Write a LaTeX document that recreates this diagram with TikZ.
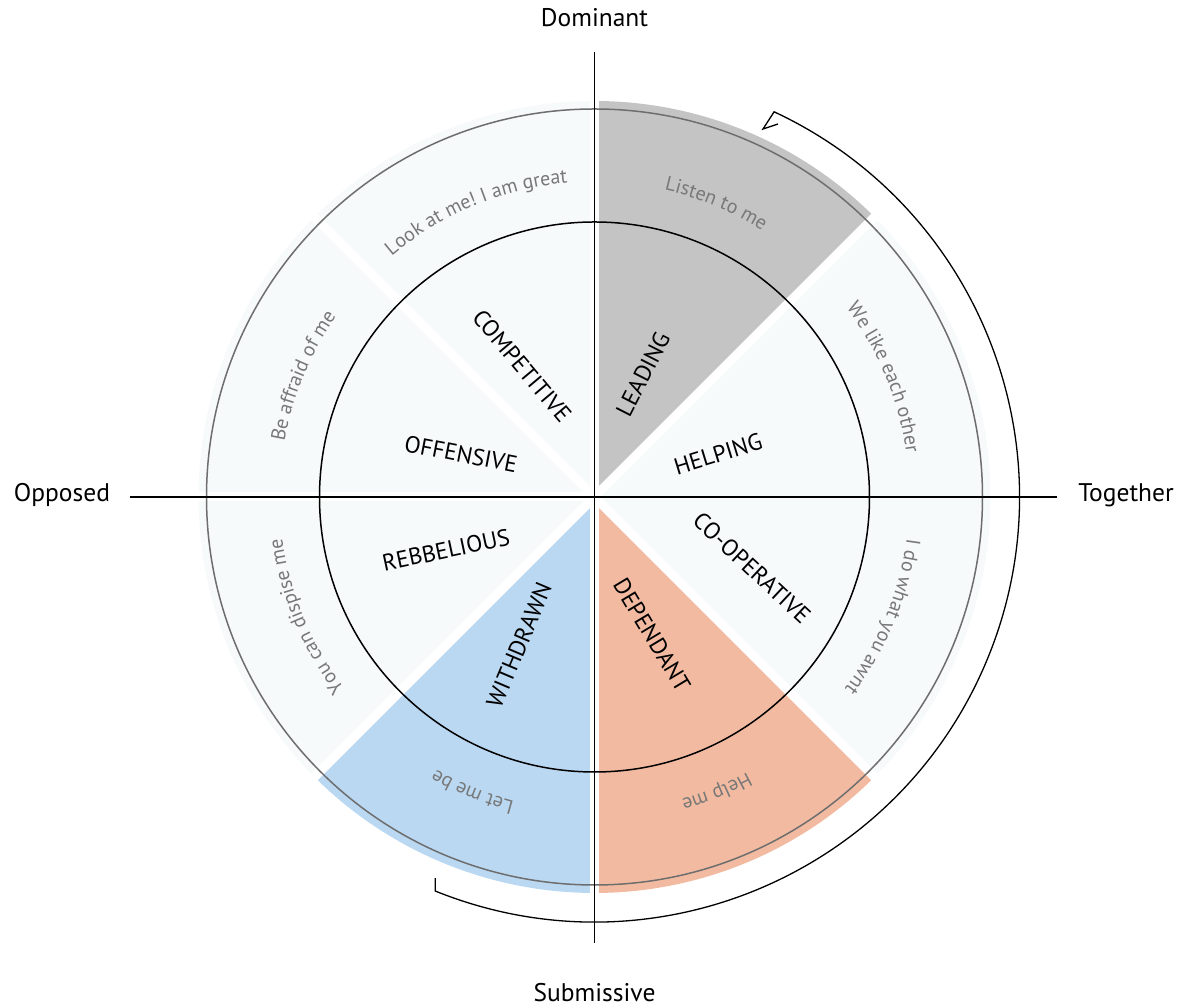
\documentclass[tikz,border=0pt]{standalone}
\usepackage{fontspec}
\setmainfont{PT Sans}
\usetikzlibrary{decorations.text,calc}
\definecolor{lightfill}{RGB}{246,250,250}
\definecolor{grayfill}{RGB}{196,196,196}
\definecolor{bluefill}{RGB}{187,216,242}
\definecolor{salmonfill}{RGB}{242,187,161}
\definecolor{ringgray}{RGB}{110,110,110}
\definecolor{textgray}{RGB}{120,120,120}
\newcommand\ringtext[2]{%
  \path[decorate,decoration={text along path,text align=center,text color=textgray,
    text={|\fontsize{20}{20}\selectfont|#2}}]
    ($(C)+(#1:315)$) arc[start angle=#1,delta angle=-45,radius=315];}
\begin{document}
\begin{tikzpicture}[x=1pt,y=1pt,
  axislabel/.style={font=\fontsize{25.5}{25.5}\selectfont,inner sep=0pt},
  inlabel/.style={font=\fontsize{23.5}{23.5}\selectfont,inner sep=0pt},
  axisline/.style={line width=1.4pt,black},
  gap/.style={white,line width=9pt}]
\useasboundingbox (0,0) rectangle (1179,1008);
\coordinate (C) at (594.5,511);
% sectors
\foreach \a/\c in {0/lightfill,45/grayfill,90/lightfill,135/lightfill,180/lightfill,225/bluefill,270/salmonfill,315/lightfill}
  \fill[\c] (C) -- ($(C)+(\a:396)$) arc[start angle=\a,delta angle=45,radius=396] -- cycle;
\foreach \a in {45,90,...,315}
  \draw[gap] (C) -- ($(C)+(\a:402)$);
% rings
\draw[ringgray,line width=1.5pt] (C) circle[radius=388];
\draw[black,line width=1.5pt] (C) circle[radius=275];
% axes
\coordinate (vt) at (594.5,956);
\coordinate (vb) at (594.5,65);
\coordinate (hl) at (130,511);
\coordinate (hr) at (1057,511);
\draw[axisline] (vt) -- (vb);
\draw[axisline] (hl) -- (hr);
% axis labels
\node[axislabel] (dom) at (594.5,990) {Dominant};
\node[axislabel] (sub) at (594.5,15) {Submissive};
\node[axislabel] (opp) at (62,513) {Opposed};
\node[axislabel] (tog) at (1126,513) {Together};
% inner labels
\node[inlabel,rotate=-50] (competitive) at (522,642) {COMPETITIVE};
\node[inlabel,rotate=-11] (offensive) at (461,554) {OFFENSIVE};
\node[inlabel,rotate=63] (leading) at (643,634) {LEADING};
\node[inlabel,rotate=17] (helping) at (718,554) {HELPING};
\node[inlabel,rotate=12] (rebbelious) at (446,458) {REBBELIOUS};
\node[inlabel,rotate=67] (withdrawn) at (519,363) {WITHDRAWN};
\node[inlabel,rotate=-59] (dependant) at (652,373) {DEPENDANT};
\node[inlabel,rotate=-43] (cooperative) at (752,440) {CO-OPERATIVE};
% outer ring texts
\ringtext{45}{We like each other}
\ringtext{90}{Listen to me}
\ringtext{135}{Look at me! I am great}
\ringtext{180}{Be affraid of me}
\ringtext{225}{You can dispise me}
\ringtext{270}{Let me be}
\ringtext{315}{Help me}
\ringtext{360}{I do what you awnt}
% cycle arrow
\coordinate (hookbot) at ($(C)+(-112:425)$);
\coordinate (hooktop) at ($(hookbot)+(0,13)$);
\coordinate (tip) at (763,879);
\coordinate (barb) at (778,884);
\draw[line width=1.3pt] (hooktop) -- (hookbot) arc[start angle=-112,end angle=65,radius=425] -- (tip) -- (barb);
\end{tikzpicture}
\end{document}
